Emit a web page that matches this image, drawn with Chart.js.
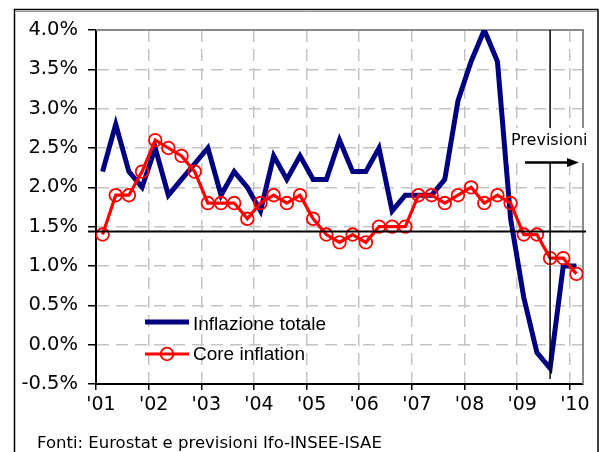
<!DOCTYPE html>
<html lang="it">
<head>
    <meta charset="UTF-8">
    <title>Inflazione totale e core inflation</title>
    <script src="https://cdn.jsdelivr.net/npm/chart.js"></script>
    <style>
        body {
            margin: 0;
            background-color: #fff;
        }

        .chart-container {
            position: relative;
            width: 599px;
            height: 452px;
        }
    </style>
</head>
<body>

    <div class="chart-container">
        <canvas id="inflChart"></canvas>
    </div>

    <script>
        // trimestri dal 2001 T1 al 2010 T1
        const quarters = [
            '2001 T1', '2001 T2', '2001 T3', '2001 T4',
            '2002 T1', '2002 T2', '2002 T3', '2002 T4',
            '2003 T1', '2003 T2', '2003 T3', '2003 T4',
            '2004 T1', '2004 T2', '2004 T3', '2004 T4',
            '2005 T1', '2005 T2', '2005 T3', '2005 T4',
            '2006 T1', '2006 T2', '2006 T3', '2006 T4',
            '2007 T1', '2007 T2', '2007 T3', '2007 T4',
            '2008 T1', '2008 T2', '2008 T3', '2008 T4',
            '2009 T1', '2009 T2', '2009 T3', '2009 T4',
            '2010 T1'
        ];
        const years = ["'01", "'02", "'03", "'04", "'05", "'06", "'07", "'08", "'09", "'10"];

        // valori in %
        const inflazioneTotale = [2.2, 2.8, 2.2, 2.0, 2.5, 1.9, 2.1, 2.3, 2.5, 1.9, 2.2, 2.0, 1.7, 2.4, 2.1, 2.4, 2.1, 2.1, 2.6, 2.2,
                                  2.2, 2.5, 1.7, 1.9, 1.9, 1.9, 2.1, 3.1, 3.6, 4.0, 3.6, 1.6, 0.6, -0.1, -0.3, 1.0, 1.0];
        const coreInflation = [1.4, 1.9, 1.9, 2.2, 2.6, 2.5, 2.4, 2.2, 1.8, 1.8, 1.8, 1.6, 1.8, 1.9, 1.8, 1.9, 1.6, 1.4, 1.3, 1.4,
                               1.3, 1.5, 1.5, 1.5, 1.9, 1.9, 1.8, 1.9, 2.0, 1.8, 1.9, 1.8, 1.4, 1.4, 1.1, 1.1, 0.9];

        const refLine = 1.44;       // linea orizzontale nera
        const forecastFrom = 34;    // indice del trimestre in cui partono le previsioni (2009 T3)

        // ogni trimestre occupa un'unità dell'asse, il punto sta a metà
        function toPoints(values) {
            return values.map((v, i) => ({ x: i + 0.5, y: v, q: quarters[i] }));
        }

        const extras = {
            id: 'extras',
            beforeDatasetsDraw(chart) {
                const { ctx, chartArea: a } = chart;
                ctx.save();
                // bordo grigio in alto e a destra dell'area del grafico
                ctx.strokeStyle = '#8c8c8c';
                ctx.lineWidth = 2;
                ctx.beginPath();
                ctx.moveTo(a.left, a.top);
                ctx.lineTo(a.right, a.top);
                ctx.lineTo(a.right, a.bottom);
                ctx.stroke();
                ctx.restore();
            },
            afterDatasetsDraw(chart) {
                const { ctx, chartArea: a, scales } = chart;
                ctx.save();
                ctx.strokeStyle = '#000';
                // linea orizzontale
                const yRef = scales.y.getPixelForValue(refLine);
                ctx.lineWidth = 2;
                ctx.beginPath();
                ctx.moveTo(a.left - 8, yRef);
                ctx.lineTo(a.right + 3, yRef);
                ctx.stroke();
                // inizio previsioni
                const xF = scales.x.getPixelForValue(forecastFrom + 0.5);
                ctx.lineWidth = 1.5;
                ctx.beginPath();
                ctx.moveTo(xF, a.top);
                ctx.lineTo(xF, a.bottom - 5);
                ctx.stroke();
                ctx.restore();
            },
            afterDraw(chart) {
                const { ctx } = chart;
                const ds = chart.data.datasets;
                ctx.save();

                // riquadro "Previsioni"
                ctx.fillStyle = '#fff';
                ctx.fillRect(508.5, 128, 91, 35);
                ctx.fillStyle = '#000';
                ctx.font = "16px 'DejaVu Sans'";
                ctx.textBaseline = 'middle';
                ctx.textAlign = 'left';
                ctx.fillText('Previsioni', 511, 141);
                ctx.strokeStyle = '#000';
                ctx.lineWidth = 2.5;
                ctx.beginPath();
                ctx.moveTo(525, 162.5);
                ctx.lineTo(570, 162.5);
                ctx.stroke();
                ctx.beginPath();
                ctx.moveTo(567, 158);
                ctx.lineTo(579, 162.5);
                ctx.lineTo(567, 167);
                ctx.closePath();
                ctx.fill();

                // legenda
                ctx.font = "19px 'Liberation Sans'";
                ctx.strokeStyle = ds[1].borderColor;
                ctx.lineWidth = ds[1].borderWidth;
                ctx.beginPath();
                ctx.moveTo(145, 322);
                ctx.lineTo(189, 322);
                ctx.stroke();
                ctx.fillStyle = '#000';
                ctx.fillText(ds[1].label, 193, 325);

                ctx.strokeStyle = ds[0].borderColor;
                ctx.lineWidth = ds[0].borderWidth;
                ctx.beginPath();
                ctx.moveTo(145, 354);
                ctx.lineTo(189, 354);
                ctx.stroke();
                ctx.lineWidth = ds[0].pointBorderWidth;
                ctx.beginPath();
                ctx.arc(167, 354, ds[0].pointRadius, 0, Math.PI * 2);
                ctx.stroke();
                ctx.fillText(ds[0].label, 193, 355);

                // fonte
                ctx.font = "16.5px 'DejaVu Sans'";
                ctx.fillText('Fonti: Eurostat e previsioni Ifo-INSEE-ISAE', 37, 444);

                // cornice esterna
                ctx.strokeStyle = '#000';
                ctx.lineWidth = 1.5;
                ctx.beginPath();
                ctx.moveTo(14.5, 452);
                ctx.lineTo(14.5, 9.5);
                ctx.lineTo(598, 9.5);
                ctx.lineTo(598, 452);
                ctx.stroke();
                ctx.strokeStyle = '#9a9a9a';
                ctx.lineWidth = 1;
                ctx.beginPath();
                ctx.moveTo(15.5, 11.5);
                ctx.lineTo(597, 11.5);
                ctx.stroke();

                ctx.restore();
            }
        };

        const ctx = document.getElementById('inflChart').getContext('2d');

        new Chart(ctx, {
            type: 'line',
            data: {
                datasets: [{
                    label: 'Core inflation',
                    data: toPoints(coreInflation),
                    borderColor: '#ff0000',
                    borderWidth: 3.2,
                    pointRadius: 6.3,
                    pointBorderWidth: 1.8,
                    pointBorderColor: '#ff0000',
                    pointBackgroundColor: 'rgba(0,0,0,0)',
                    tension: 0,
                    order: 0
                }, {
                    label: 'Inflazione totale',
                    data: toPoints(inflazioneTotale),
                    borderColor: '#000080',
                    borderWidth: 5,
                    pointRadius: 0,
                    borderJoinStyle: 'miter',
                    tension: 0,
                    order: 1
                }]
            },
            options: {
                responsive: true,
                maintainAspectRatio: false,
                animation: false,
                layout: {
                    padding: { top: 30, right: 16, bottom: 28, left: 0 }
                },
                plugins: {
                    legend: { display: false },
                    tooltip: { enabled: false }
                },
                scales: {
                    x: {
                        type: 'linear',
                        min: 0,
                        max: quarters.length,
                        afterBuildTicks: scale => {
                            scale.ticks = years.map((y, i) => ({ value: i * 4 }));
                        },
                        afterFit: scale => { scale.height = 40; },
                        ticks: {
                            callback: (v) => years[v / 4],
                            font: { family: 'DejaVu Sans', size: 19 },
                            color: '#000',
                            padding: 4,
                            labelOffset: 5,
                            maxRotation: 0,
                            autoSkip: false
                        },
                        grid: {
                            color: '#c4c4c4',
                            lineWidth: 1.5,
                            tickLength: 6,
                            tickColor: '#000',
                            tickWidth: 1.5
                        },
                        border: {
                            color: '#000',
                            width: 2,
                            dash: [12, 7]
                        }
                    },
                    y: {
                        min: -0.5,
                        max: 4.0,
                        afterFit: scale => { scale.width = 96; },
                        ticks: {
                            stepSize: 0.5,
                            callback: (v) => v.toFixed(1) + '%',
                            font: { family: 'DejaVu Sans', size: 19.5 },
                            color: '#000',
                            padding: 10
                        },
                        grid: {
                            color: '#c4c4c4',
                            lineWidth: 1.5,
                            tickLength: 8,
                            tickColor: '#000',
                            tickWidth: 1.5
                        },
                        border: {
                            color: '#000',
                            width: 2,
                            dash: [12, 7]
                        }
                    }
                }
            },
            plugins: [extras]
        });
    </script>

</body>
</html>
